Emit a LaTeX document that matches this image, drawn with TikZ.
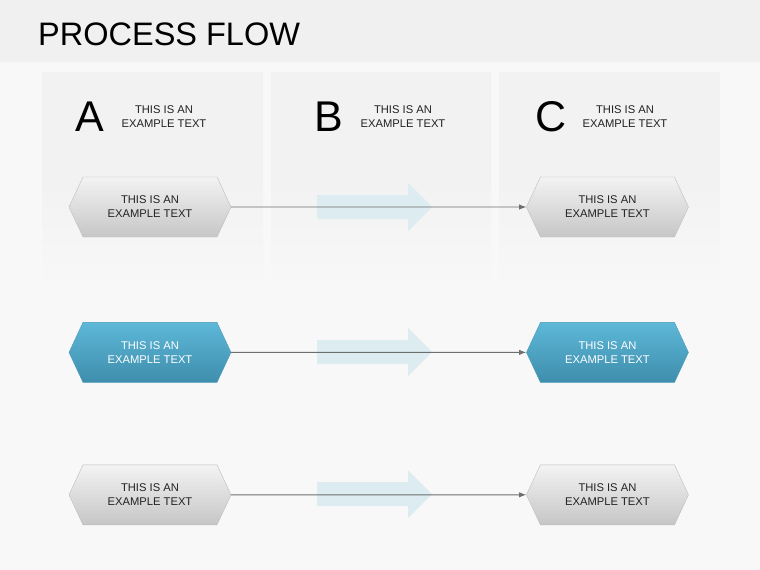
\documentclass[tikz,border=0pt]{standalone}
\usepackage{fontspec}
\setmainfont{Liberation Sans}
\usepackage{tikz}
\usetikzlibrary{arrows.meta,positioning,shapes.symbols}
\definecolor{page}{HTML}{F8F8F8}
\definecolor{header}{HTML}{F0F0F0}
\definecolor{panel}{HTML}{F2F2F2}
\definecolor{greytop}{HTML}{F3F3F3}
\definecolor{greybot}{HTML}{C6C6C6}
\definecolor{greyline}{HTML}{BDBDBD}
\definecolor{bluetop}{HTML}{5DB8D8}
\definecolor{bluebot}{HTML}{3F8DAC}
\definecolor{blueline}{HTML}{4A9CBC}
\definecolor{ghost}{HTML}{DDECF1}
\definecolor{wire}{HTML}{6E6E6E}
\definecolor{ink}{HTML}{222222}

\begin{document}
\begin{tikzpicture}[x=1pt,y=-1pt,>=Latex,node distance=85pt,
    hexbox/.style={signal,signal to=east and west,signal pointer angle=130,
      minimum width=162pt,minimum height=60pt,inner sep=0pt,align=center,
      font=\fontsize{11.2}{14}\selectfont},
    greyhex/.style={hexbox,top color=greytop,bottom color=greybot,draw=greyline,text=ink},
    bluehex/.style={hexbox,top color=bluetop,bottom color=bluebot,draw=blueline,text=white},
    letter/.style={font=\fontsize{43}{43}\selectfont,text=black,inner sep=0pt},
    caption/.style={align=center,font=\fontsize{11.2}{14}\selectfont,text=ink,inner sep=0pt},
    flow/.style={->,wire,line width=0.9pt}]
        \useasboundingbox (0,0) rectangle (760,570);
        \fill[page] (0,0) rectangle (760,570);
        \fill[header] (0,0) rectangle (760,62);
        % column panels
        \shade[top color=panel,bottom color=page,middle color=panel] (42,72) rectangle (263,290);
        \shade[top color=panel,bottom color=page,middle color=panel] (271,72) rectangle (491,290);
        \shade[top color=panel,bottom color=page,middle color=panel] (499,72) rectangle (720,290);
        \node[anchor=base west,inner sep=0pt,font=\fontsize{32.5}{33}\selectfont,text=black] (title) at (38,45) {PROCESS FLOW};
        % column heads
        \node[letter] (a) at (90,117) {A};
        \node[caption] (ta) at (164,117) {THIS IS AN\\EXAMPLE TEXT};
        \node[letter] (b) at (329,117) {B};
        \node[caption] (tb) at (403,117) {THIS IS AN\\EXAMPLE TEXT};
        \node[letter] (c) at (551,117) {C};
        \node[caption] (tc) at (625,117) {THIS IS AN\\EXAMPLE TEXT};
        % faint arrows in column B
        \fill[ghost] (317,195) -- (408,195) -- (408,183) -- (432,207) -- (408,231) -- (408,219) -- (317,219) -- cycle;
        \fill[ghost] (317,340) -- (408,340) -- (408,328) -- (432,352) -- (408,376) -- (408,364) -- (317,364) -- cycle;
        \fill[ghost] (317,482) -- (408,482) -- (408,470) -- (432,494) -- (408,518) -- (408,506) -- (317,506) -- cycle;
        % rows
        \node[greyhex] (l1) at (150,207) {THIS IS AN\\EXAMPLE TEXT};
        \node[greyhex,right=295pt of l1] (r1) {THIS IS AN\\EXAMPLE TEXT};
        \node[bluehex,below=of l1] (l2) {THIS IS AN\\EXAMPLE TEXT};
        \node[bluehex,right=295pt of l2] (r2) {THIS IS AN\\EXAMPLE TEXT};
        \node[greyhex,below=82pt of l2] (l3) {THIS IS AN\\EXAMPLE TEXT};
        \node[greyhex,right=295pt of l3] (r3) {THIS IS AN\\EXAMPLE TEXT};
        \draw[flow] (l1) -- (r1);
        \draw[flow] (l2) -- (r2);
        \draw[flow] (l3) -- (r3);
      \end{tikzpicture}
\end{document}
